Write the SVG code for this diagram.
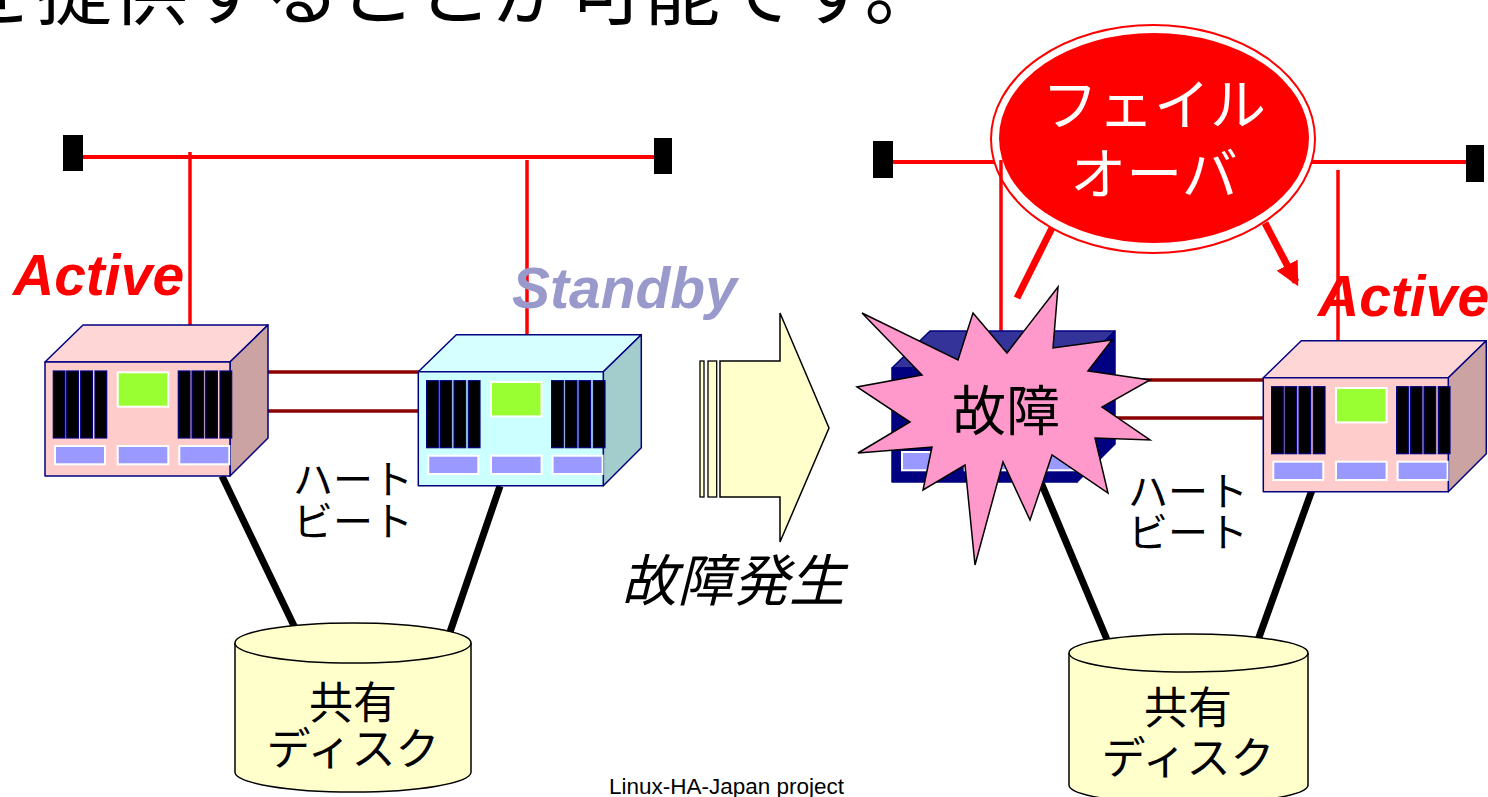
<svg xmlns="http://www.w3.org/2000/svg" width="1488" height="797" viewBox="0 0 1488 797">
  <style>
    .bus { stroke: #ff0000; stroke-width: 4; fill: none; }
    .drop { stroke: #ff0000; stroke-width: 3.5; fill: none; }
    .hb { stroke: #8b0000; stroke-width: 3.5; fill: none; }
    .disk-link { stroke: #000000; stroke-width: 7; fill: none; }
    .term { fill: #000000; }
    .face { stroke: #000080; stroke-width: 1.5; stroke-linejoin: round; }
    .slot { fill: #000000; stroke: #000080; stroke-width: 1.2; }
    .screen { fill: #99ff33; stroke: #ffffff; stroke-width: 2; }
    .bar { fill: #9999ff; stroke: #ffffff; stroke-width: 2; }
    .disk { fill: #ffffcc; stroke: #000000; stroke-width: 1.5; }
    .jp { font-family: "Noto Sans CJK JP", "Noto Sans CJK SC", sans-serif; }
    .role { font-family: "Liberation Sans", Arial, sans-serif; font-weight: bold; font-style: italic; font-size: 57px; }
    .lbl { font-size: 40px; fill: #000000; text-anchor: middle; }
    .dlbl { font-size: 44px; fill: #000000; text-anchor: middle; }
  </style>
  <defs>
    <!-- front panel details shared by every server -->
    <g id="panel">
      <rect class="slot" x="8.3" y="9" width="11.7" height="67"/>
      <rect class="slot" x="21.7" y="9" width="11.7" height="67"/>
      <rect class="slot" x="35.7" y="9" width="11.7" height="67"/>
      <rect class="slot" x="50" y="9" width="11.7" height="67"/>
      <rect class="slot" x="133.3" y="9" width="11.7" height="67"/>
      <rect class="slot" x="147" y="9" width="11.7" height="67"/>
      <rect class="slot" x="160.7" y="9" width="11.7" height="67"/>
      <rect class="slot" x="175" y="9" width="11.7" height="67"/>
      <rect class="screen" x="72.7" y="10.3" width="50.6" height="34.4"/>
      <rect class="bar" x="10" y="84" width="50" height="18.3"/>
      <rect class="bar" x="72.7" y="84" width="50.6" height="18.3"/>
      <rect class="bar" x="134.3" y="84" width="50" height="18.3"/>
    </g>
    <marker id="head" viewBox="0 0 10 10" refX="8" refY="5" markerWidth="3.4" markerHeight="3.4" orient="auto" markerUnits="strokeWidth">
      <path d="M0,0 L10,5 L0,10 z" fill="#ff0000"/>
    </marker>
  </defs>

  <!-- heading line, partly above the frame -->
  <text class="jp" x="-40" y="19" font-size="76" fill="#000000">を提供することが可能です。</text>

  <!-- connectors -->
  <g id="connectors">
    <!-- left network -->
    <line class="bus" x1="83" y1="157" x2="655" y2="157"/>
    <line class="drop" x1="190" y1="152" x2="190" y2="326"/>
    <line class="drop" x1="527" y1="160" x2="527" y2="335"/>
    <line class="hb" x1="268" y1="372" x2="419" y2="372"/>
    <line class="hb" x1="268" y1="411" x2="419" y2="411"/>
    <line class="disk-link" x1="222" y1="476" x2="296" y2="630"/>
    <line class="disk-link" x1="500" y1="486" x2="450" y2="632"/>
    <!-- right network -->
    <line class="bus" x1="893" y1="162" x2="1466" y2="162"/>
    <line class="hb" x1="1115" y1="380" x2="1264" y2="380"/>
    <line class="hb" x1="1115" y1="418" x2="1264" y2="418"/>
    <line class="disk-link" x1="1040" y1="480" x2="1108" y2="642"/>
    <line class="disk-link" x1="1312" y1="490" x2="1258" y2="640"/>
  </g>

  <!-- bus terminators -->
  <g id="terminators">
    <rect class="term" x="63" y="135" width="20" height="36"/>
    <rect class="term" x="654" y="138" width="18" height="36"/>
    <rect class="term" x="873" y="141" width="20" height="37"/>
    <rect class="term" x="1466" y="145" width="18" height="37"/>
  </g>

  <!-- active server (left) -->
  <g id="server-active" transform="translate(45,362)">
    <polygon class="face" fill="#ffd6d6" points="0,0 38,-37 223,-37 185,0"/>
    <polygon class="face" fill="#cca3a3" points="185,0 223,-37 223,76 185,114"/>
    <rect class="face" fill="#ffcccc" x="0" y="0" width="185" height="114"/>
    <use href="#panel"/>
  </g>

  <!-- standby server -->
  <g id="server-standby" transform="translate(418.3,371.7)">
    <polygon class="face" fill="#d6ffff" points="0,0 38,-37 223,-37 185,0"/>
    <polygon class="face" fill="#a3cccc" points="185,0 223,-37 223,76 185,114"/>
    <rect class="face" fill="#ccffff" x="0" y="0" width="185" height="114"/>
    <use href="#panel"/>
  </g>

  <!-- labels, left side -->
  <text class="role" x="13" y="295" fill="#ff0000">Active</text>
  <text class="role" x="512" y="308" fill="#9999cc">Standby</text>
  <g id="heartbeat-left">
    <text class="jp lbl" x="353" y="494">ハート<tspan x="353" dy="42">ビート</tspan></text>
  </g>

  <!-- shared disk (left) -->
  <g id="disk-left">
    <path class="disk" d="M235,643 L235,772 A118,20 0 0 0 471,772 L471,643"/>
    <ellipse class="disk" cx="353" cy="643" rx="118" ry="20"/>
    <text class="jp dlbl" x="353" y="719">共有<tspan x="353" dy="46">ディスク</tspan></text>
  </g>

  <!-- transition arrow -->
  <g id="transition">
    <rect x="700" y="361" width="4" height="136" fill="#ffffcc" stroke="#000000" stroke-width="1.3"/>
    <rect x="708" y="361" width="8.7" height="136" fill="#ffffcc" stroke="#000000" stroke-width="1.3"/>
    <polygon points="720,361 780,361 780,313 829,428 780,542 780,497 720,497" fill="#ffffcc" stroke="#000000" stroke-width="1.5" stroke-linejoin="miter"/>
    <text class="jp" x="733" y="601" font-size="56" font-style="italic" text-anchor="middle" fill="#000000">故障発生</text>
  </g>

  <!-- failover callout -->
  <g id="failover">
    <ellipse cx="1153" cy="139" rx="162" ry="114" fill="#ffffff" stroke="#ff0000" stroke-width="2"/>
    <ellipse cx="1154" cy="138" rx="155" ry="105" fill="#ff0000"/>
    <text class="jp" x="1154" y="125" font-size="56" fill="#ffffff" text-anchor="middle">フェイル<tspan x="1154" dy="69">オーバ</tspan></text>
    <line x1="1052" y1="228" x2="1017" y2="298" stroke="#ff0000" stroke-width="7"/>
    <line x1="1265" y1="223" x2="1296" y2="282" stroke="#ff0000" stroke-width="7" marker-end="url(#head)"/>
  </g>

  <!-- drops on the right network -->
  <g id="connectors-right">
    <line class="drop" x1="1001" y1="160" x2="1001" y2="332"/>
    <line class="drop" x1="1338" y1="170" x2="1338" y2="341"/>
  </g>

  <!-- failed server -->
  <g id="server-failed" transform="translate(892,368)">
    <polygon class="face" fill="#333399" points="0,0 38,-37 223,-37 185,0"/>
    <polygon class="face" fill="#000080" points="185,0 223,-37 223,76 185,114"/>
    <rect class="face" fill="#000080" x="0" y="0" width="185" height="114"/>
    <rect class="bar" x="10" y="84" width="50" height="18.3"/>
    <rect class="bar" x="72.7" y="84" width="50.6" height="18.3"/>
    <rect class="bar" x="134.3" y="84" width="50" height="18.3"/>
  </g>

  <!-- fault burst -->
  <g id="fault">
    <polygon points="862,313 958,360 973,313 1007,353 1058,287 1053,348 1112,340 1088,371 1150,380 1102,407 1150,440 1095,438 1108,493 1052,455 1030,520 1003,462 975,565 965,465 923,490 932,447 858,453 910,422 857,387 922,375" fill="#ff99cc" stroke="#000000" stroke-width="1.5" stroke-linejoin="miter"/>
    <text class="jp" x="1006" y="431" font-size="54" fill="#000000" text-anchor="middle">故障</text>
  </g>

  <!-- new active server (right) -->
  <g id="server-new-active" transform="translate(1263.3,377.7)">
    <polygon class="face" fill="#ffd6d6" points="0,0 38,-37 223,-37 185,0"/>
    <polygon class="face" fill="#cca3a3" points="185,0 223,-37 223,76 185,114"/>
    <rect class="face" fill="#ffcccc" x="0" y="0" width="185" height="114"/>
    <use href="#panel"/>
  </g>

  <text class="role" x="1318" y="316" fill="#ff0000">Active</text>
  <g id="heartbeat-right">
    <text class="jp lbl" x="1188" y="506">ハート<tspan x="1188" dy="41">ビート</tspan></text>
  </g>

  <!-- shared disk (right) -->
  <g id="disk-right">
    <path class="disk" d="M1069,653 L1069,785 A119.5,19 0 0 0 1308,785 L1308,653"/>
    <ellipse class="disk" cx="1188.5" cy="653" rx="119.5" ry="19"/>
    <text class="jp dlbl" x="1188" y="724">共有<tspan x="1188" dy="50">ディスク</tspan></text>
  </g>

  <text x="609" y="794" font-family="Liberation Sans, Arial, sans-serif" font-size="22.5" fill="#000000">Linux-HA-Japan project</text>
</svg>
